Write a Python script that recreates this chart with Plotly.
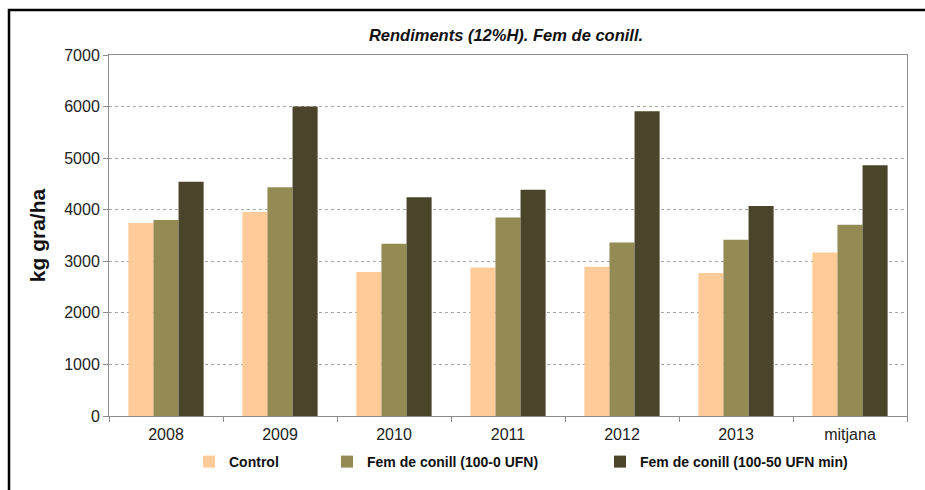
import plotly.graph_objects as go

categories = ["2008", "2009", "2010", "2011", "2012", "2013", "mitjana"]
control = [3740, 3955, 2790, 2880, 2895, 2775, 3170]
fem_100_0 = [3800, 4435, 3340, 3850, 3365, 3420, 3710]
fem_100_50 = [4540, 6000, 4240, 4385, 5910, 4070, 4860]
series_names = ["Control", "Fem de conill (100-0 UFN)", "Fem de conill (100-50 UFN min)"]
colors = ["#FFCC99", "#948A54", "#4A452A"]

L, R, T, B = 109, 18, 55, 74
W, H = 925, 490
pw, ph = W - L - R, H - T - B

def px_x(px):
    return (px - L) / pw

def px_y(py):
    return (H - B - py) / ph

FONT = "Liberation Sans, Arial"

fig = go.Figure()
legend_ids = ["legend", "legend2", "legend3"]
for name, vals, col, lid in zip(series_names, [control, fem_100_0, fem_100_50], colors, legend_ids):
    fig.add_trace(go.Bar(
        x=categories, y=vals, name=name,
        marker=dict(color=col, line=dict(width=0)),
        legend=lid, showlegend=True,
    ))

legend_pos = [189, 327, 600]
layout_legends = {}
for lid, xp in zip(legend_ids, legend_pos):
    layout_legends[lid] = dict(
        orientation="h", xref="container", yref="container",
        xanchor="left", yanchor="middle",
        x=xp / W, y=1 - 462 / H, visible=True,
        font=dict(family=FONT, size=14, color="#111", weight="bold"),
        bgcolor="rgba(0,0,0,0)", itemwidth=30,
    )

fig.update_layout(
    width=W, height=H, showlegend=True,
    margin=dict(l=L, r=R, t=T, b=B),
    paper_bgcolor="white", plot_bgcolor="white",
    barmode="group", bargap=0.34, bargroupgap=0,
    font=dict(family=FONT, size=16, color="#222"),
    title=dict(
        text="<b><i>Rendiments (12%H). Fem de conill.</i></b>",
        x=px_x(506), xref="paper", xanchor="center",
        yref="container", y=1 - 35 / H, yanchor="middle",
        font=dict(family=FONT, size=16.5, color="#111"),
    ),
    xaxis=dict(
        type="category", automargin=False,
        showline=True, linecolor="#8c8c8c", linewidth=1,
        mirror=True, ticks="outside", tickson="boundaries", ticklen=5,
        tickcolor="#8c8c8c", showgrid=False, ticklabelstandoff=4,
        tickfont=dict(family=FONT, size=16, color="#222"),
    ),
    yaxis=dict(
        range=[0, 7000], dtick=1000, automargin=False,
        showline=True, linecolor="#8c8c8c",
        linewidth=1, mirror=True, ticks="outside", ticklen=5,
        tickcolor="#8c8c8c", showgrid=True, gridcolor="#a6a6a6",
        gridwidth=1, griddash="dot", zeroline=False,
        tickfont=dict(family=FONT, size=16, color="#222"),
        title=dict(text="<b>kg gra/ha</b>", font=dict(family=FONT, size=21, color="#111"), standoff=12),
    ),
    **layout_legends,
)

# outer frame (top and left visible, extends past right/bottom edges)
fig.add_shape(type="rect", xref="paper", yref="paper",
              x0=px_x(9), y0=px_y(500), x1=px_x(935), y1=px_y(10),
              line=dict(color="black", width=2.5), fillcolor="rgba(0,0,0,0)", layer="above")

fig.write_html("out.html", config={"displayModeBar": False},
               post_script="document.body.style.margin='0';document.body.style.overflow='hidden';")
